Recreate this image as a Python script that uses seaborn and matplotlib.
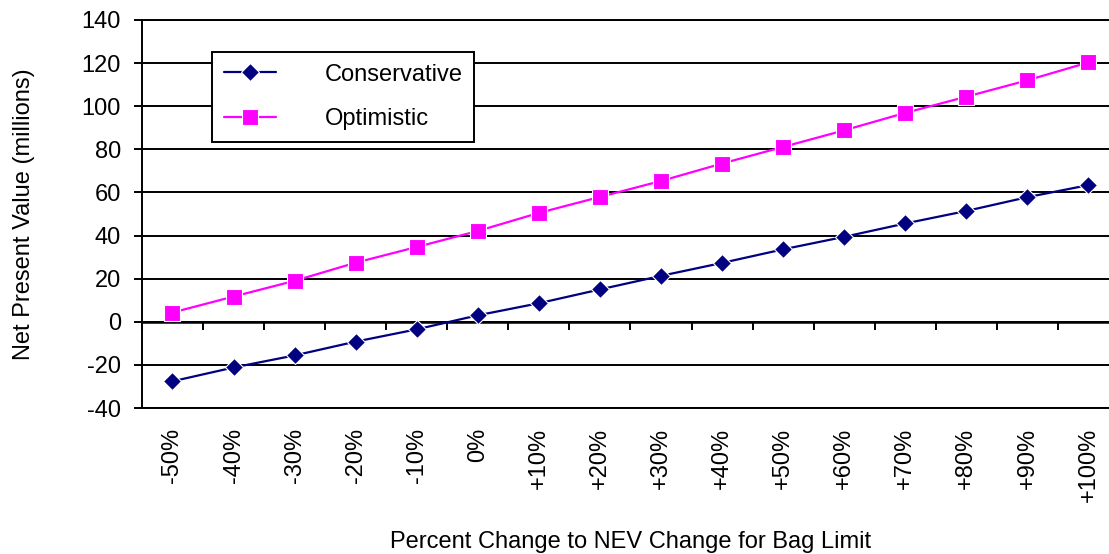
import numpy as np
import pandas as pd
import matplotlib
matplotlib.use("Agg")
import matplotlib.pyplot as plt
import seaborn as sns

sns.set_theme(style="white")
plt.rcParams['font.family'] = ['Liberation Sans', 'DejaVu Sans']
plt.rcParams['font.size'] = 17
plt.rcParams['axes.unicode_minus'] = False
plt.rcParams['text.color'] = 'black'
plt.rcParams['axes.labelcolor'] = 'black'
plt.rcParams['xtick.color'] = 'black'
plt.rcParams['ytick.color'] = 'black'

# data
pct_labels = ['-50%', '-40%', '-30%', '-20%', '-10%', '0%', '+10%', '+20%',
              '+30%', '+40%', '+50%', '+60%', '+70%', '+80%', '+90%', '+100%']
conservative = [-27.6, -21.2, -15.6, -9.2, -3.5, 3.0, 8.6, 15.0,
                21.3, 27.3, 33.6, 39.4, 45.6, 51.4, 57.8, 63.4]
optimistic = [4.3, 11.7, 19.0, 27.4, 34.7, 42.1, 50.5, 57.9,
              65.3, 73.4, 81.1, 88.8, 96.9, 104.4, 112.0, 120.3]
y_ticks = [-40, -20, 0, 20, 40, 60, 80, 100, 120, 140]

pos = np.arange(len(pct_labels))
df = pd.DataFrame({
    'pos': np.concatenate([pos, pos]),
    'npv': conservative + optimistic,
    'scenario': ['Conservative'] * len(pos) + ['Optimistic'] * len(pos),
})

fig = plt.figure(figsize=(11.09, 5.54), dpi=100)
ax = fig.add_axes([0.128, 0.2635, 0.881, 0.7005])

# gridlines at every tick (black, like the original)
ax.set_ylim(-40, 140)
ax.set_yticks(y_ticks)
ax.yaxis.grid(True, color='black', linewidth=1.4)
ax.set_axisbelow(True)

sns.lineplot(data=df, x='pos', y='npv', hue='scenario', style='scenario',
             palette={'Conservative': '#000080', 'Optimistic': '#FF00FF'},
             markers={'Conservative': 'D', 'Optimistic': 's'},
             dashes=False, linewidth=1.6, markeredgewidth=0.8,
             ax=ax, zorder=3)
for line in ax.lines:
    if line.get_marker() == 'D':
        line.set_markersize(9.5)
    elif line.get_marker() == 's':
        line.set_markersize(12)

ax.set_xlim(-0.5, len(pos) - 0.5)
ax.set_xticks(pos)
ax.set_xticklabels(pct_labels, rotation=90, fontsize=17)
ax.tick_params(axis='x', length=0, pad=14)
ax.tick_params(axis='y', length=6, width=1.4, color='black', direction='out',
               left=True, pad=9, labelsize=17)

for side in ['left', 'top', 'bottom']:
    ax.spines[side].set_color('black')
    ax.spines[side].set_linewidth(1.4)
ax.spines['right'].set_visible(False)

# category axis crossing at zero with ticks between categories
sec = ax.secondary_xaxis(0, transform=ax.transData)
sec.set_xticks(np.arange(-0.5, len(pos), 1.0))
sec.tick_params(axis='x', length=6, width=1.4, direction='out',
                color='black', labelbottom=False)
sec.spines['bottom'].set_color('black')
sec.spines['bottom'].set_linewidth(1.8)

ax.set_xlabel('Percent Change to NEV Change for Bag Limit', fontsize=17, labelpad=21)
ax.set_ylabel('Net Present Value (millions)', fontsize=17, labelpad=34)

leg = ax.legend(loc='upper left', bbox_to_anchor=(0.072, 0.918), frameon=True,
                fancybox=False, edgecolor='black', framealpha=1, fontsize=17,
                handlelength=2.2, handletextpad=2.05, labelspacing=0.95,
                borderpad=0.5, borderaxespad=0, title=None)
leg.get_frame().set_linewidth(1.4)

fig.savefig('out.png', dpi=100)
